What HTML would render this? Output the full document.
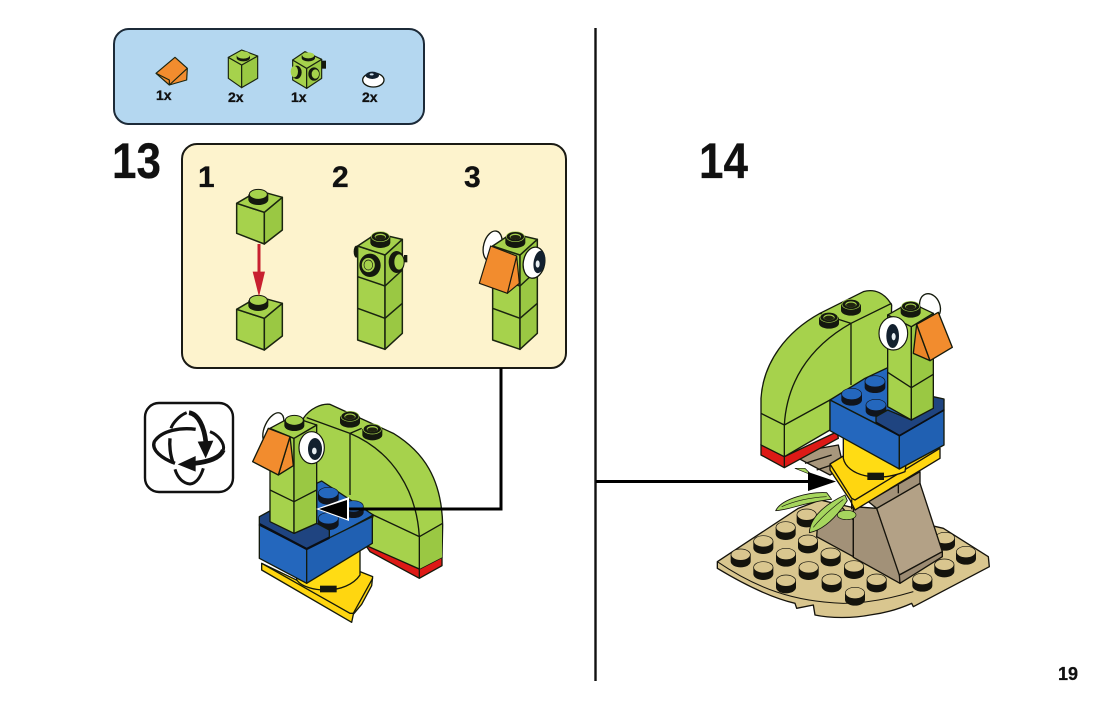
<!DOCTYPE html>
<html><head><meta charset="utf-8"><style>
html,body{margin:0;padding:0;background:#fff}
svg{display:block}
text{font-family:"Liberation Sans",sans-serif;font-weight:bold;fill:#111;stroke:#111;stroke-width:.3px}
</style></head><body>
<svg width="1106" height="709" viewBox="0 0 1106 709" xmlns="http://www.w3.org/2000/svg">
<defs>
<g id="stud"><path d="M-30,-12 V4 A30,16 0 0 0 30,4 V-12 Z" fill="#14180e"/><ellipse cy="-12" rx="27" ry="15" fill="#a6d24c" stroke="#14180e" stroke-width="3"/></g>
<g id="dstud"><path d="M-30,-8 V10 A30,16 0 0 0 30,10 V-8 Z" fill="#14180e"/><ellipse cy="-8" rx="27" ry="15" fill="#14180e" stroke="#a6d24c" stroke-width="2"/><ellipse cy="-8" rx="17" ry="9" fill="#a6d24c"/><ellipse cy="-6" rx="15" ry="7" fill="#20240f"/></g>
<g id="bstud"><path d="M-31,-8 V10 A31,17 0 0 0 31,10 V-8 Z" fill="#10141c"/><ellipse cy="-8" rx="30" ry="17" fill="#2467bd" stroke="#10141c" stroke-width="2"/></g>
<g id="tstud"><path d="M-30,-8 V12 A30,18 0 0 0 30,12 V-8 Z" fill="#14130c"/><ellipse cy="-8" rx="29" ry="17" fill="#d9c68f" stroke="#14130c" stroke-width="2"/></g>
<g id="brick" stroke="#1a2410" stroke-width="4.5" stroke-linejoin="round">
<path d="M50,100 L133,127 V222 L50,190 Z" fill="#a6d24c"/>
<path d="M133,127 L187,82 V180 L133,222 Z" fill="#9ac843"/>
<path d="M50,100 L115,62 L187,82 L133,127 Z" fill="#a6d24c"/>
<use href="#stud" x="115" y="85" stroke="none"/>
</g>
<g id="column" stroke="#1a2410" stroke-width="4.5" stroke-linejoin="round">
<path d="M413,228 L495,255 V538 L413,510 Z" fill="#a6d24c"/>
<path d="M495,255 L547,208 V490 L495,538 Z" fill="#9ac843"/>
<path d="M413,228 L470,190 L547,208 L495,255 Z" fill="#a6d24c"/>
<path d="M413,320 L495,348 L547,300 M413,415 L495,445 L547,400" fill="none"/>
<use href="#dstud" x="481" y="208" stroke="none"/>
</g>
<g id="eye">
<ellipse rx="38" ry="48" fill="#fff" stroke="#14180e" stroke-width="3.5"/>
<ellipse cx="10" cy="4" rx="21" ry="33" fill="#12202e"/>
<ellipse cx="8" cy="10" rx="7" ry="10" fill="#e8eef2"/>
</g>
</defs>

<!-- parts box -->
<rect x="114" y="29" width="310" height="95" rx="15" fill="#b4d7f0" stroke="#1c2a38" stroke-width="2"/>
<g transform="translate(110 20) scale(.33333)" stroke="#1a2410" stroke-width="3.5" stroke-linejoin="round">
<path d="M138,160 L195,112 L232,145 L230,180 L178,195 Z" fill="#f28c2e"/>
<path d="M178,195 L232,145 M138,160 L178,180 L178,195" fill="none"/>
<path d="M355,112 L395,135 V203 L355,175 Z" fill="#a6d24c"/>
<path d="M395,135 L443,108 V175 L395,203 Z" fill="#9ac843"/>
<path d="M355,112 L395,90 L443,108 L395,135 Z" fill="#a6d24c"/>
<path d="M380,106 V114 A20,10 0 0 0 420,114 V106 Z" fill="#14180e" stroke="none"/>
<ellipse cx="400" cy="105" rx="20" ry="11" fill="#a6d24c" stroke="none"/>
<rect x="632" y="122" width="16" height="24" fill="#14180e" stroke="none"/>
<path d="M548,120 L590,145 V205 L548,180 Z" fill="#a6d24c"/>
<path d="M590,145 L635,118 V175 L590,205 Z" fill="#9ac843"/>
<path d="M548,120 L585,95 L635,118 L590,145 Z" fill="#a6d24c"/>
<path d="M575,106 V114 A20,10 0 0 0 615,114 V106 Z" fill="#14180e" stroke="none"/>
<ellipse cx="595" cy="106" rx="18" ry="9" fill="#a6d24c" stroke="none"/>
<ellipse cx="560" cy="157" rx="15" ry="20" fill="#14180e" stroke="none"/>
<ellipse cx="553" cy="155" rx="11" ry="17" fill="#a6d24c" stroke="none"/>
<ellipse cx="612" cy="162" rx="17" ry="20" fill="#14180e" stroke="none"/>
<ellipse cx="616" cy="162" rx="11" ry="14" fill="#a6d24c" stroke="none"/>
<ellipse cx="790" cy="180" rx="32" ry="21" fill="#fff" stroke="#14180e" stroke-width="4"/>
<ellipse cx="787" cy="166" rx="20" ry="11" fill="#12202e" stroke="none"/>
<ellipse cx="785" cy="163" rx="6" ry="3" fill="#cfe0ee" stroke="none"/>
</g>
<text x="156" y="100" font-size="14">1x</text>
<text x="228" y="102" font-size="14">2x</text>
<text x="291" y="102" font-size="14">1x</text>
<text x="362" y="102" font-size="14">2x</text>

<!-- step numbers -->
<text transform="translate(112 178) scale(.88 1)" font-size="50">13</text>
<text transform="translate(699 178) scale(.88 1)" font-size="50">14</text>

<!-- sub-steps panel -->
<rect x="182" y="144" width="384" height="224" rx="15" fill="#fdf3cd" stroke="#1a1a14" stroke-width="2"/>
<text x="198" y="187" font-size="30">1</text>
<text x="332" y="187" font-size="30">2</text>
<text x="464" y="187" font-size="30">3</text>

<g transform="translate(220 170) scale(.33333)">
<use href="#brick"/>
<use href="#brick" y="318"/>
<path d="M117,222 V310" stroke="#c8202f" stroke-width="9"/>
<path d="M98,305 L135,305 L117,380 Z" fill="#c8202f"/>
<!-- step 2 -->
<ellipse cx="409" cy="245" rx="8" ry="18" fill="#14180e"/>
<use href="#column"/>
<ellipse cx="450" cy="286" rx="32" ry="35" fill="#14180e"/>
<ellipse cx="445" cy="285" rx="21" ry="23" fill="#a6d24c" stroke="#14180e" stroke-width="3"/>
<ellipse cx="445" cy="285" rx="13" ry="15" fill="none" stroke="#14180e" stroke-width="2"/>
<ellipse cx="530" cy="276" rx="24" ry="33" fill="#14180e"/>
<ellipse cx="537" cy="276" rx="15" ry="24" fill="#a6d24c" stroke="#14180e" stroke-width="2"/>
<rect x="552" y="255" width="10" height="22" fill="#14180e"/>
<!-- step 3 -->
<ellipse cx="818" cy="228" rx="27" ry="46" fill="#fff" stroke="#14180e" stroke-width="4" transform="rotate(15 818 228)"/>
<use href="#column" x="405"/>
<ellipse cx="942" cy="278" rx="32" ry="47" fill="#fff" stroke="#14180e" stroke-width="4" transform="rotate(10 942 278)"/>
<ellipse cx="958" cy="276" rx="17" ry="34" fill="#12202e" transform="rotate(10 958 276)"/>
<ellipse cx="953" cy="282" rx="6" ry="11" fill="#e8eef2"/>
<path d="M890,258 L862,370 L898,340 Z" fill="#f28c2e" stroke="#1a1a0e" stroke-width="3.5" stroke-linejoin="round"/>
<path d="M812,228 L890,258 L862,370 L778,340 Z" fill="#f28c2e" stroke="#1a1a0e" stroke-width="3.5" stroke-linejoin="round"/>
</g>

<!-- rotate icon -->
<rect x="145" y="403" width="88" height="89" rx="14" fill="#fff" stroke="#111" stroke-width="2.4"/>
<g transform="translate(145 400) scale(.33333)" fill="none" stroke="#111" stroke-linecap="butt">
<path d="M125,38 C100,48 82,72 78,85" stroke-width="9"/>
<path d="M75,115 C73,135 75,165 85,190" stroke-width="10"/>
<path d="M90,208 C98,235 115,250 135,252 C155,250 168,228 175,205" stroke-width="9"/>
<path d="M152,88 C110,82 50,90 28,125 C18,150 50,175 90,190" stroke-width="10"/>
<path d="M195,95 C220,105 240,130 235,150" stroke-width="9"/>
<path d="M132,38 C160,42 178,80 183,130" stroke-width="14"/>
<path d="M235,150 C225,175 190,185 150,190" stroke-width="14"/>
<path d="M158,125 L205,122 L182,175 Z" fill="#111" stroke="none"/>
<path d="M152,168 L152,215 L98,193 Z" fill="#111" stroke="none"/>
</g>

<!-- left model -->
<g transform="translate(140 395) scale(.33333)" stroke="#141a0c" stroke-width="4" stroke-linejoin="round">
<path d="M675,448 L838,522 L906,487 V512 L838,550 L690,470 Z" fill="#dd1a16"/>
<path d="M838,522 V550" fill="none"/>
<path d="M490,70 C510,40 545,25 570,28 L760,115 C850,170 905,250 908,390 L906,487 L838,522 L675,450 L700,360 L530,265 Z" fill="#a6d24c"/>
<path d="M838,425 V522 L906,487 V385 Z" fill="#9ac843" stroke="none"/>
<path d="M700,360 L838,425 L908,385 M838,425 V522 M630,115 V300 M630,115 C760,170 830,290 838,425 M630,115 L665,100 M500,68 L630,115" fill="none"/>
<use href="#dstud" x="630" y="72" stroke="none"/>
<use href="#dstud" x="697" y="110" stroke="none"/>
<!-- yellow -->
<path d="M365,505 L480,560 L660,530 L698,545 L695,572 L665,628 L640,658 L635,682 L365,525 Z" fill="#ffd610"/>
<path d="M470,530 L470,555 C500,595 620,600 660,540 L660,465 L470,500 Z" fill="#ffdc14"/>
<path d="M365,505 L630,655 L640,655 L698,550" fill="none"/>
<rect x="540" y="572" width="50" height="20" fill="#14180e" stroke="none"/>
<!-- blue -->
<path d="M530,265 L545,258 L700,360 L568,432 L530,400 Z" fill="#2467bd"/>
<use href="#bstud" x="565" y="302" stroke="none"/>
<use href="#bstud" x="640" y="342" stroke="none"/>
<use href="#bstud" x="565" y="378" stroke="none"/>
<path d="M358,390 L500,462 V565 L358,490 Z" fill="#2467bd"/>
<path d="M500,462 L697,365 V445 L500,565 Z" fill="#2060b2"/>
<path d="M358,365 L395,345 V380 L462,415 L530,385 L568,405 L568,428 L500,462 L358,390 Z" fill="#1f4480"/>
<path d="M358,387 L500,462 L568,428" fill="none" stroke="#0a0e14" stroke-width="7"/>
<!-- neck -->
<ellipse cx="400" cy="100" rx="26" ry="50" fill="#fff" transform="rotate(25 400 100)"/>
<path d="M390,100 L462,130 V415 L390,380 Z" fill="#a6d24c"/>
<path d="M462,130 L530,90 V385 L462,415 Z" fill="#9ac843"/>
<path d="M390,100 L455,65 L530,90 L462,130 Z" fill="#a6d24c"/>
<path d="M390,285 L462,320 L530,285" fill="none"/>
<use href="#stud" x="463" y="88" stroke="none"/>
<use href="#eye" transform="translate(515 158)" stroke="none"/>
<path d="M450,125 L415,240 L460,212 Z" fill="#f28c2e"/>
<path d="M385,100 L450,125 L415,240 L338,200 Z" fill="#f28c2e"/>
</g>

<!-- right model lower -->
<g transform="translate(710 440) scale(.33333)" stroke="#15130c" stroke-width="4" stroke-linejoin="round">
<path d="M22,365 L265,205 L330,180 L700,265 L835,350 L838,380 L610,500 L605,490 C560,510 520,520 480,525 C430,535 360,535 315,525 L310,495 L260,505 L255,490 C170,470 80,420 22,385 Z" fill="#d9c68f"/>
<path d="M22,365 C140,445 250,485 400,490 C480,490 560,470 610,455" fill="none" stroke-width="3"/>
<use href="#tstud" x="92" y="352" stroke="none"/>
<use href="#tstud" x="160" y="312" stroke="none"/>
<use href="#tstud" x="227" y="270" stroke="none"/>
<use href="#tstud" x="290" y="232" stroke="none"/>
<use href="#tstud" x="160" y="390" stroke="none"/>
<use href="#tstud" x="228" y="350" stroke="none"/>
<use href="#tstud" x="294" y="310" stroke="none"/>
<use href="#tstud" x="228" y="430" stroke="none"/>
<use href="#tstud" x="296" y="390" stroke="none"/>
<use href="#tstud" x="362" y="349" stroke="none"/>
<use href="#tstud" x="365" y="427" stroke="none"/>
<use href="#tstud" x="432" y="387" stroke="none"/>
<use href="#tstud" x="500" y="427" stroke="none"/>
<use href="#tstud" x="435" y="467" stroke="none"/>
<use href="#tstud" x="637" y="425" stroke="none"/>
<use href="#tstud" x="703" y="382" stroke="none"/>
<use href="#tstud" x="768" y="344" stroke="none"/>
<use href="#tstud" x="705" y="302" stroke="none"/>
<!-- tan -->
<path d="M265,55 L300,30 L385,15 L400,80 L360,105 Z" fill="#a8977c"/>
<path d="M285,70 L365,45 M320,90 L380,70" fill="none"/>
<path d="M325,225 L385,190 L430,240 V350 L320,290 Z" fill="#a29178"/>
<path d="M430,200 L500,205 L570,405 V430 L430,352 Z" fill="#a29178"/>
<path d="M500,205 L630,130 L697,335 L568,405 Z" fill="#b3a186"/>
<path d="M568,405 L697,335 V350 L570,430 Z" fill="#9c8b72"/>
<path d="M475,185 L630,95 V130 L500,205 Z" fill="#a29178"/>
<path d="M565,135 V160" fill="none"/>
<!-- leaves -->
<path d="M255,85 L285,85 L305,105 Z" fill="#a6d65e" stroke-width="2"/>
<ellipse cx="410" cy="225" rx="28" ry="14" fill="#a6d65e" stroke-width="2"/>
<path d="M197,212 C215,175 300,155 350,158 L365,178 C290,185 230,212 197,212 Z" fill="#a6d65e" stroke-width="2.5"/>
<path d="M215,200 C260,180 310,172 350,170" fill="none" stroke-width="2"/>
<path d="M298,278 C300,230 350,190 405,165 L412,182 C380,230 340,270 298,278 Z" fill="#a6d65e" stroke-width="2.5"/>
<path d="M310,262 C335,230 365,205 400,178" fill="none" stroke-width="2"/>
<!-- yellow -->
<path d="M360,72 L400,48 L690,25 V55 L435,210 L420,180 L360,90 Z" fill="#ffd610"/>
<path d="M360,72 L425,175 L435,180 L690,25" fill="none"/>
<path d="M425,178 V208" fill="none"/>
<path d="M400,-10 V55 C410,105 500,130 585,95 L600,-10 Z" fill="#ffdc14"/>
<rect x="472" y="98" width="50" height="22" fill="#14180e" stroke="none"/>
</g>

<!-- right model upper -->
<g transform="translate(750 285) scale(.33333)" stroke="#141a0c" stroke-width="4" stroke-linejoin="round">
<path d="M33,478 L103,515 L262,440 L265,460 L103,548 L33,510 Z" fill="#dd1a16"/>
<path d="M103,515 V548" fill="none"/>
<path d="M33,480 L33,340 C40,230 110,140 210,85 L340,20 C375,10 405,25 425,60 L420,250 L240,345 L240,435 L103,515 Z" fill="#a6d24c"/>
<path d="M33,385 L103,420 L240,345 M103,420 V515 M103,420 C110,300 170,190 303,115 M303,115 V300 M303,115 L210,85 M303,115 L425,55" fill="none"/>
<use href="#dstud" x="237" y="105" stroke="none"/>
<use href="#dstud" x="303" y="66" stroke="none"/>
<!-- blue -->
<path d="M240,345 L345,280 L420,245 L420,340 L582,345 L450,452 Z" fill="#2467bd"/>
<use href="#bstud" x="305" y="335" stroke="none"/>
<use href="#bstud" x="375" y="297" stroke="none"/>
<use href="#bstud" x="378" y="368" stroke="none"/>
<path d="M240,345 L448,452 V552 L240,437 Z" fill="#2467bd"/>
<path d="M448,452 L582,375 V480 L448,552 Z" fill="#2060b2"/>
<path d="M378,395 L413,375 L484,405 L550,368 V335 L582,342 V375 L450,452 L378,412 Z" fill="#1f4480"/>
<path d="M378,412 L448,452 L582,375" fill="none" stroke="#0a0e14" stroke-width="5"/>
<!-- neck -->
<ellipse cx="540" cy="65" rx="30" ry="40" fill="#fff" transform="rotate(-20 540 65)"/>
<path d="M413,90 L484,125 V405 L413,365 Z" fill="#a6d24c"/>
<path d="M484,125 L550,85 V370 L484,405 Z" fill="#9ac843"/>
<path d="M413,90 L480,52 L550,85 L484,125 Z" fill="#a6d24c"/>
<path d="M413,262 L484,308 L550,268" fill="none"/>
<use href="#dstud" x="482" y="72" stroke="none"/>
<g transform="translate(430 145)"><ellipse rx="43" ry="50" fill="#fff" stroke="#14180e" stroke-width="3.5"/><ellipse cx="-2" cy="8" rx="19" ry="36" fill="#12202e" stroke="none"/><ellipse cx="1" cy="10" rx="6" ry="11" fill="#e8eef2" stroke="none"/></g>
<path d="M500,118 L540,227 L490,205 Z" fill="#ea8428"/>
<path d="M500,118 L565,82 L607,187 L540,227 Z" fill="#f28c2e"/>
</g>

<!-- divider and arrows -->
<path d="M595.5,28 V681" stroke="#111" stroke-width="2.4"/>
<path d="M596,481.5 H815" stroke="#000" stroke-width="3"/>
<path d="M808,472 L836,481.5 L808,491 Z" fill="#000"/>
<path d="M501,368 V509 H340" fill="none" stroke="#000" stroke-width="3"/>
<path d="M316,509 L349,497 V521 Z" fill="#fff"/>
<path d="M319,509 L347,500 V519 Z" fill="#000"/>

<text x="1058" y="680" font-size="18">19</text>
</svg>
</body></html>
